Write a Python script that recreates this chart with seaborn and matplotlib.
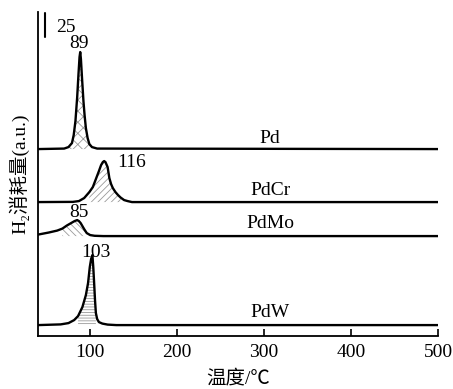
import matplotlib
matplotlib.use("Agg")
import matplotlib.pyplot as plt
import numpy as np
import seaborn as sns

# temperature (°C) and signal height above each baseline (a.u.)
pd_t = [40, 70, 75, 79, 81, 83, 85, 86.5, 87.7, 88.5, 89.3, 90.5, 92.2, 93.5, 95, 97, 99, 102, 108, 500]
pd_h = [0, 0.5, 2, 6, 14, 28, 52, 75, 92, 97, 90, 72, 48, 34, 21, 11, 5, 2, 0.5, 0]

cr_t = [40, 80, 87, 93, 99, 103, 106.5, 110, 112.5, 114.5, 116, 117.5, 120, 122, 124, 126, 129, 132, 135, 139, 143, 148, 500]
cr_h = [0, 0.2, 1, 4, 10, 15, 23, 31, 37, 40, 41, 40, 35, 24, 18, 14, 10, 7, 4.5, 2, 1, 0, 0]

mo_t = [40, 43, 52, 62, 68, 73, 78, 82, 85, 87, 89, 91, 93, 96, 100, 105, 115, 500]
mo_h = [1.5, 2, 3.5, 5.5, 7.5, 10.5, 13, 15, 16, 15, 13, 10, 7, 3, 1, 0.3, 0, 0]

w_t = [40, 66, 75, 81.5, 86, 91, 95, 97.5, 99.5, 101, 102.5, 103.5, 104.5, 105.5, 106.5, 108, 110, 114, 120, 130, 500]
w_h = [0, 0.7, 2, 5, 9, 18, 30, 42, 58, 66, 70, 58, 42, 25, 12, 6, 3, 1.5, 0.5, 0, 0]

samples = ["Pd", "PdCr", "PdMo", "PdW"]
peak_temps = ["89", "116", "85", "103"]
offsets = [187, 134, 100, 11]

curves = {"Pd": (pd_t, pd_h), "PdCr": (cr_t, cr_h), "PdMo": (mo_t, mo_h), "PdW": (w_t, w_h)}
hatches = {"Pd": "xxx", "PdCr": "/////", "PdMo": "\\\\\\\\\\", "PdW": "------"}
hatch_span = {"Pd": (74, 102), "PdCr": (95, 138), "PdMo": (65, 97), "PdW": (86, 107)}
name_pos = {"Pd": (307, 198), "PdCr": (307, 146), "PdMo": (307, 113), "PdW": (307, 24)}
peak_pos = {"Pd": (87, 293), "PdCr": (148, 174), "PdMo": (87, 124), "PdW": (106, 84)}

sns.set_theme(style="white")
plt.rcParams["font.family"] = ["Liberation Serif", "Noto Sans CJK SC", "DejaVu Sans"]
plt.rcParams["text.color"] = "black"
plt.rcParams["axes.labelcolor"] = "black"
plt.rcParams["hatch.color"] = "#9a9a9a"
plt.rcParams["hatch.linewidth"] = 0.6

fig = plt.figure(figsize=(4.53, 3.89), dpi=100)
ax = fig.add_axes([0.084, 0.136, 0.883, 0.833])

for name, off in zip(samples, offsets):
    t, h = curves[name]
    t = np.array(t)
    y = np.array(h) + off
    lo, hi = hatch_span[name]
    m = (t >= lo) & (t <= hi)
    ax.fill_between(t[m], off, y[m], facecolor="none", edgecolor="#9a9a9a",
                    hatch=hatches[name], linewidth=0)
    sns.lineplot(x=t, y=y, color="black", linewidth=1.7, ax=ax, sort=False)
    ax.text(*name_pos[name], name, ha="center", va="center", fontsize=14)

for name, lab in zip(samples, peak_temps):
    ax.text(*peak_pos[name], lab, ha="center", va="center", fontsize=14)

# scale bar
ax.plot([48, 48], [299, 323], color="black", linewidth=1.5)
ax.text(72, 309, "25", ha="center", va="center", fontsize=14)

ax.set_xlim(40, 500)
ax.set_ylim(0, 324)
ax.set_xticks([100, 200, 300, 400, 500])
ax.set_yticks([])
ax.tick_params(axis="x", direction="in", length=5, width=1.2, labelsize=14, pad=6,
               bottom=True, colors="black")
for side in ["top", "right"]:
    ax.spines[side].set_visible(False)
for side in ["left", "bottom"]:
    ax.spines[side].set_color("black")
    ax.spines[side].set_linewidth(1.3)

ax.set_xlabel("温度/℃", fontsize=14, labelpad=6)
ax.set_ylabel("H₂消耗量(a.u.)", fontsize=14, labelpad=6)

fig.savefig("out.png", dpi=100)
